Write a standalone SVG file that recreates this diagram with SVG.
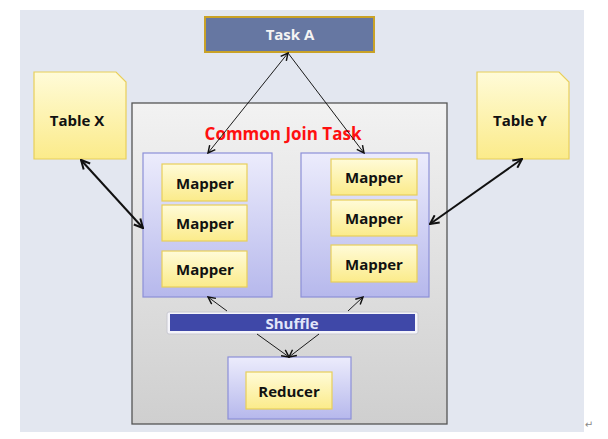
<svg xmlns="http://www.w3.org/2000/svg" width="608" height="439" viewBox="0 0 608 439">
<defs>
<linearGradient id="yel" x1="0" y1="0" x2="0" y2="1"><stop offset="0" stop-color="#fffbd8"/><stop offset="1" stop-color="#fbeb8a"/></linearGradient>
<linearGradient id="lav" x1="0" y1="0" x2="0" y2="1"><stop offset="0" stop-color="#ececfc"/><stop offset="1" stop-color="#b6b8ec"/></linearGradient>
<linearGradient id="gray" x1="0" y1="0" x2="0" y2="1"><stop offset="0" stop-color="#f2f2f2"/><stop offset="1" stop-color="#cfcfcf"/></linearGradient>
<marker id="ah" viewBox="0 0 10 10" refX="9" refY="5" markerWidth="9" markerHeight="9" markerUnits="userSpaceOnUse" orient="auto-start-reverse"><path d="M1,1 L9,5 L1,9" fill="none" stroke="#111" stroke-width="1.6"/></marker>
<marker id="ahb" viewBox="0 0 10 10" refX="9" refY="5" markerWidth="11" markerHeight="11" markerUnits="userSpaceOnUse" orient="auto-start-reverse"><path d="M1,1 L9,5 L1,9" fill="none" stroke="#111" stroke-width="1.8"/></marker>
</defs>
<style>
.t{font-family:"Open Sans","DejaVu Sans",sans-serif;font-weight:700;text-anchor:middle;dominant-baseline:central}
.box{fill:url(#yel);stroke:#e8cf5a;stroke-width:1.2}
.grp{fill:url(#lav);stroke:#8c8fd8;stroke-width:1.2}
.c{fill:none;stroke:#1a1a1a;stroke-width:1}
.cb{fill:none;stroke:#111;stroke-width:2}
</style>
<rect x="20" y="10" width="564" height="422" fill="#e3e7f0"/>
<text x="589" y="424" font-family="DejaVu Sans,sans-serif" font-size="10" fill="#888" text-anchor="middle" dominant-baseline="central">↵</text>

<g id="common-join-task">
<rect x="132" y="103" width="315" height="321" fill="url(#gray)" stroke="#555" stroke-width="1.3"/>
<text class="t" x="283" y="133" font-size="17" fill="#ff1010" font-weight="600">Common Join Task</text>
</g>

<g id="task-a">
<rect x="205" y="17" width="169" height="35" fill="#6677a2" stroke="#c9a227" stroke-width="2"/>
<text class="t" x="290" y="34" font-size="15" fill="#f4f4f4">Task A</text>
</g>

<g id="table-x">
<path d="M34,72 H116 L126,82 V159 H34 Z" class="box"/>
<text class="t" x="77" y="120" font-size="15" fill="#111">Table X</text>
</g>

<g id="table-y">
<path d="M477,72 H559 L569,82 V159 H477 Z" class="box"/>
<text class="t" x="520" y="120" font-size="15" fill="#111">Table Y</text>
</g>

<g id="left-mappers">
<rect x="143" y="153" width="129" height="144" class="grp"/>
</g>
<g id="mapper-l1"><rect x="162" y="164" width="85" height="37" class="box"/><text class="t" x="205" y="183" font-size="15" fill="#111" font-weight="600">Mapper</text></g>
<g id="mapper-l2"><rect x="162" y="205" width="85" height="36" class="box"/><text class="t" x="205" y="223" font-size="15" fill="#111" font-weight="600">Mapper</text></g>
<g id="mapper-l3"><rect x="162" y="251" width="85" height="36" class="box"/><text class="t" x="205" y="269" font-size="15" fill="#111" font-weight="600">Mapper</text></g>

<g id="right-mappers">
<rect x="301" y="153" width="128" height="144" class="grp"/>
</g>
<g id="mapper-r1"><rect x="331" y="159" width="86" height="36" class="box"/><text class="t" x="374" y="177" font-size="15" fill="#111" font-weight="600">Mapper</text></g>
<g id="mapper-r2"><rect x="331" y="200" width="86" height="36" class="box"/><text class="t" x="374" y="218" font-size="15" fill="#111" font-weight="600">Mapper</text></g>
<g id="mapper-r3"><rect x="331" y="245" width="86" height="37" class="box"/><text class="t" x="374" y="264" font-size="15" fill="#111" font-weight="600">Mapper</text></g>

<g id="shuffle">
<rect x="167" y="312" width="251" height="22" rx="2" fill="#f4f4fa" stroke="#c8c8d0" stroke-width="1"/>
<rect x="170" y="314" width="245" height="17" fill="#3f48a8"/>
<text class="t" x="292" y="323" font-size="15" fill="#e2e6fa" font-weight="600">Shuffle</text>
</g>

<g id="reducer-group">
<rect x="228" y="357" width="123" height="62" class="grp"/>
</g>
<g id="reducer"><rect x="246" y="372" width="86" height="37" class="box"/><text class="t" x="289" y="391" font-size="15" fill="#111" font-weight="600">Reducer</text></g>

<g id="connectors">
<line x1="288" y1="53" x2="208" y2="153" class="c" marker-start="url(#ah)" marker-end="url(#ah)"/>
<line x1="288" y1="53" x2="364" y2="153" class="c" marker-end="url(#ah)"/>
<line x1="81" y1="160" x2="143" y2="228" class="cb" marker-start="url(#ahb)" marker-end="url(#ahb)"/>
<line x1="522" y1="159" x2="430" y2="224" class="cb" marker-start="url(#ahb)" marker-end="url(#ahb)"/>
<line x1="227" y1="311" x2="208" y2="297" class="c" marker-end="url(#ah)"/>
<line x1="348" y1="311" x2="363" y2="297" class="c" marker-end="url(#ah)"/>
<line x1="257" y1="334" x2="289" y2="357" class="c" marker-end="url(#ah)"/>
<line x1="319" y1="334" x2="289" y2="357" class="c" marker-end="url(#ah)"/>
</g>
</svg>
